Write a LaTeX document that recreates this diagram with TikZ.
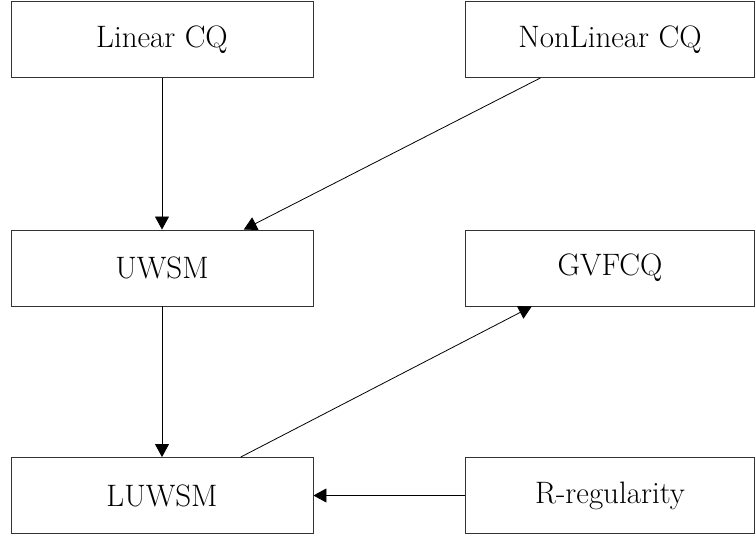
\documentclass[tikz,border=0pt]{standalone}
\usepackage{amssymb}
\usepackage{amsmath}
\usepackage{tikz}
\usetikzlibrary{arrows.meta,positioning,calc}

\begin{document}
\begin{tikzpicture}[x=1pt,y=-1pt,
   		blk/.style={rectangle,draw=black!80,line width=0.9pt,inner sep=0pt,minimum height=76pt,font=\fontsize{31}{37}\selectfont},
   		lblk/.style={blk,minimum width=302pt},
   		rblk/.style={blk,minimum width=289pt},
   		imp/.style={-{Triangle[width=14pt,length=13pt]},line width=0.8pt,black}]
   	\useasboundingbox (0,0) rectangle (756,535);
   	\path   (162,39.5) 	node  	(lcq) [lblk] {Linear CQ}
   	        (610,39.5) 	node  	(ncq) [rblk] {NonLinear CQ}
   	        (162,268) 	node  	(uwsm) [lblk] {UWSM}
   	        (610,268) 	node  	(gvf) [rblk] {GVFCQ}
   	        (162,495.5) 	node  	(luwsm) [lblk] {LUWSM}
   	        (610,495.5) 	node  	(rreg) [rblk] {R-regularity};
   	\draw [imp] (lcq) -- (uwsm);
   	\draw [imp] ($(ncq.south west)!0.26!(ncq.south east)$) -- ($(uwsm.north west)!0.77!(uwsm.north east)$);
   	\draw [imp] (uwsm) -- (luwsm);
   	\draw [imp] ($(luwsm.north west)!0.76!(luwsm.north east)$) -- ($(gvf.south west)!0.23!(gvf.south east)$);
   	\draw [imp] (rreg) -- (luwsm);
\end{tikzpicture}
\end{document}
